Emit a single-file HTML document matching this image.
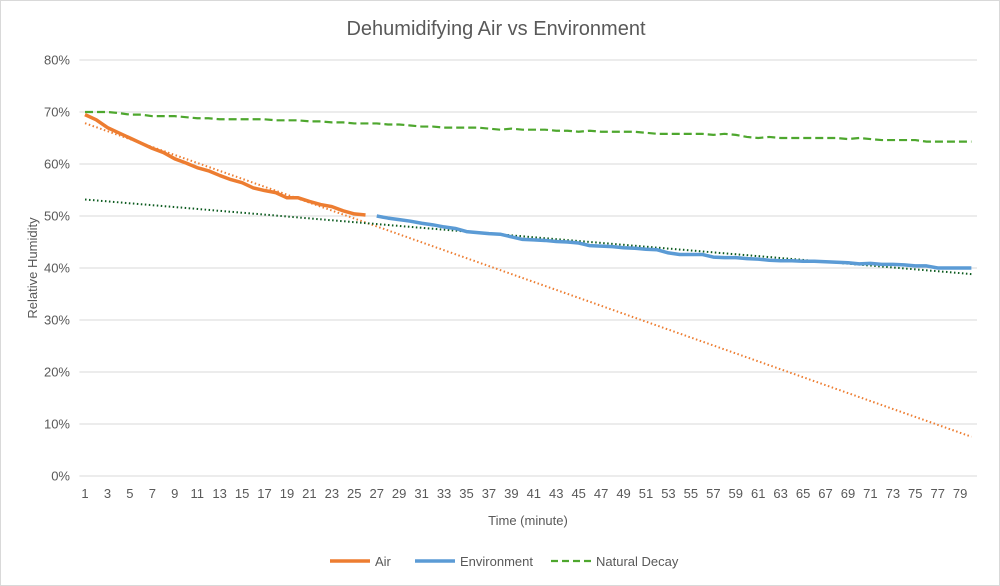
<!DOCTYPE html>
<html><head><meta charset="utf-8"><style>
body{margin:0;background:#fff}
svg{display:block;font-family:"Liberation Sans",sans-serif}
</style></head><body>
<svg id="chart" width="1000" height="586">
<rect x="0.5" y="0.5" width="999" height="585" fill="#fff" stroke="#d9d9d9"/>
<text x="496" y="35" text-anchor="middle" font-size="20" fill="#595959">Dehumidifying Air vs  Environment</text>
<text transform="translate(37,268) rotate(-90)" text-anchor="middle" font-size="13" fill="#595959">Relative Humidity</text>
<text x="528" y="525" text-anchor="middle" font-size="13" fill="#595959">Time (minute)</text>
<g id="grid"></g><g id="ylabels"></g><g id="xlabels"></g><g id="series"></g>
<g>
<line x1="330" y1="561" x2="370" y2="561" stroke="#ed7d31" stroke-width="3.5"/>
<text x="375" y="566" font-size="13" fill="#595959">Air</text>
<line x1="415" y1="561" x2="455" y2="561" stroke="#5b9bd5" stroke-width="3.5"/>
<text x="460" y="566" font-size="13" fill="#595959">Environment</text>
<line x1="551" y1="561" x2="591" y2="561" stroke="#4ea72e" stroke-width="2.2" stroke-dasharray="7,4"/>
<text x="596" y="566" font-size="13" fill="#595959">Natural Decay</text>
</g>
</svg>
<script>
const yTicks=[0,10,20,30,40,50,60,70,80];
const airStart=1;
const airValues=[69.5,68.5,67,66,65,64,63,62.2,61,60.2,59.3,58.7,57.8,57,56.4,55.4,54.9,54.5,53.5,53.5,52.8,52.2,51.8,51,50.4,50.2];
const envStart=27;
const envValues=[50,49.6,49.3,49,48.6,48.3,47.9,47.6,47,46.8,46.6,46.5,46,45.5,45.4,45.3,45.1,45,44.8,44.3,44.2,44.1,43.9,43.8,43.6,43.5,42.9,42.6,42.6,42.6,42.1,42,42,41.8,41.7,41.5,41.4,41.4,41.3,41.3,41.2,41.1,41,40.8,40.9,40.7,40.7,40.6,40.4,40.4,40,40,40,40];
const decayValues=[70,70,70,69.8,69.5,69.5,69.2,69.2,69.2,69,68.8,68.8,68.6,68.6,68.6,68.6,68.6,68.4,68.4,68.4,68.2,68.2,68,68,67.8,67.8,67.8,67.6,67.6,67.4,67.2,67.2,67,67,67,67,66.8,66.6,66.8,66.6,66.6,66.6,66.4,66.4,66.2,66.4,66.2,66.2,66.2,66.2,66,65.8,65.8,65.8,65.8,65.8,65.6,65.8,65.6,65.2,65,65.2,65,65,65,65,65,65,64.8,65,64.8,64.6,64.6,64.6,64.6,64.3,64.3,64.3,64.3,64.3];
const nCats=80;
const L=79.4,R=977,T=60,B=476;
const step=(R-L)/nCats;
const X=i=>L+(i-0.5)*step;
const Y=v=>B-(v/80)*(B-T);
const NS="http://www.w3.org/2000/svg";
function mk(tag,attrs,parent){const e=document.createElementNS(NS,tag);for(const k in attrs)e.setAttribute(k,attrs[k]);document.getElementById(parent).appendChild(e);return e;}
yTicks.forEach(t=>{
 const g=mk('line',{x1:L,x2:R,y1:Y(t),y2:Y(t),stroke:'#d9d9d9','stroke-width':1},'grid');
 
 
 const tx=mk('text',{x:70,y:Y(t)+4.5,'text-anchor':'end','font-size':13,fill:'#595959'},'ylabels');
 tx.textContent=t+'%';
 
 
});
for(let i=1;i<=79;i+=2){
 const tx=mk('text',{x:X(i),y:498,'text-anchor':'middle','font-size':13,fill:'#595959'},'xlabels');
 tx.textContent=i;
 
 
}
function pts(start,vals){return vals.map((v,k)=>X(start+k).toFixed(2)+','+Y(v).toFixed(2)).join(' ');}
function fit(start,vals){const n=vals.length;let sx=0,sy=0,sxx=0,sxy=0;vals.forEach((v,k)=>{const x=start+k;sx+=x;sy+=v;sxx+=x*x;sxy+=x*v;});const m=(n*sxy-sx*sy)/(n*sxx-sx*sx);return [m,(sy-m*sx)/n];}
function trend(start,vals,color,name){const [m,b]=fit(start,vals);const e=mk('line',{x1:X(1),y1:Y(m*1+b),x2:X(80),y2:Y(m*80+b),stroke:color,'stroke-width':2,'stroke-dasharray':'1.5,2.5'},'series');
 
 }
const d=mk('polyline',{points:pts(1,decayValues),fill:'none',stroke:'#4ea72e','stroke-width':2.2,'stroke-dasharray':'8,4'},'series');


trend(airStart,airValues,'#ed7d31','air-trendline');
trend(envStart,envValues,'#0b5a1e','environment-trendline');
const a=mk('polyline',{points:pts(airStart,airValues),fill:'none',stroke:'#ed7d31','stroke-width':3.5,'stroke-linejoin':'round'},'series');


const en=mk('polyline',{points:pts(envStart,envValues),fill:'none',stroke:'#5b9bd5','stroke-width':3.5,'stroke-linejoin':'round'},'series');


</script>
</body></html>
